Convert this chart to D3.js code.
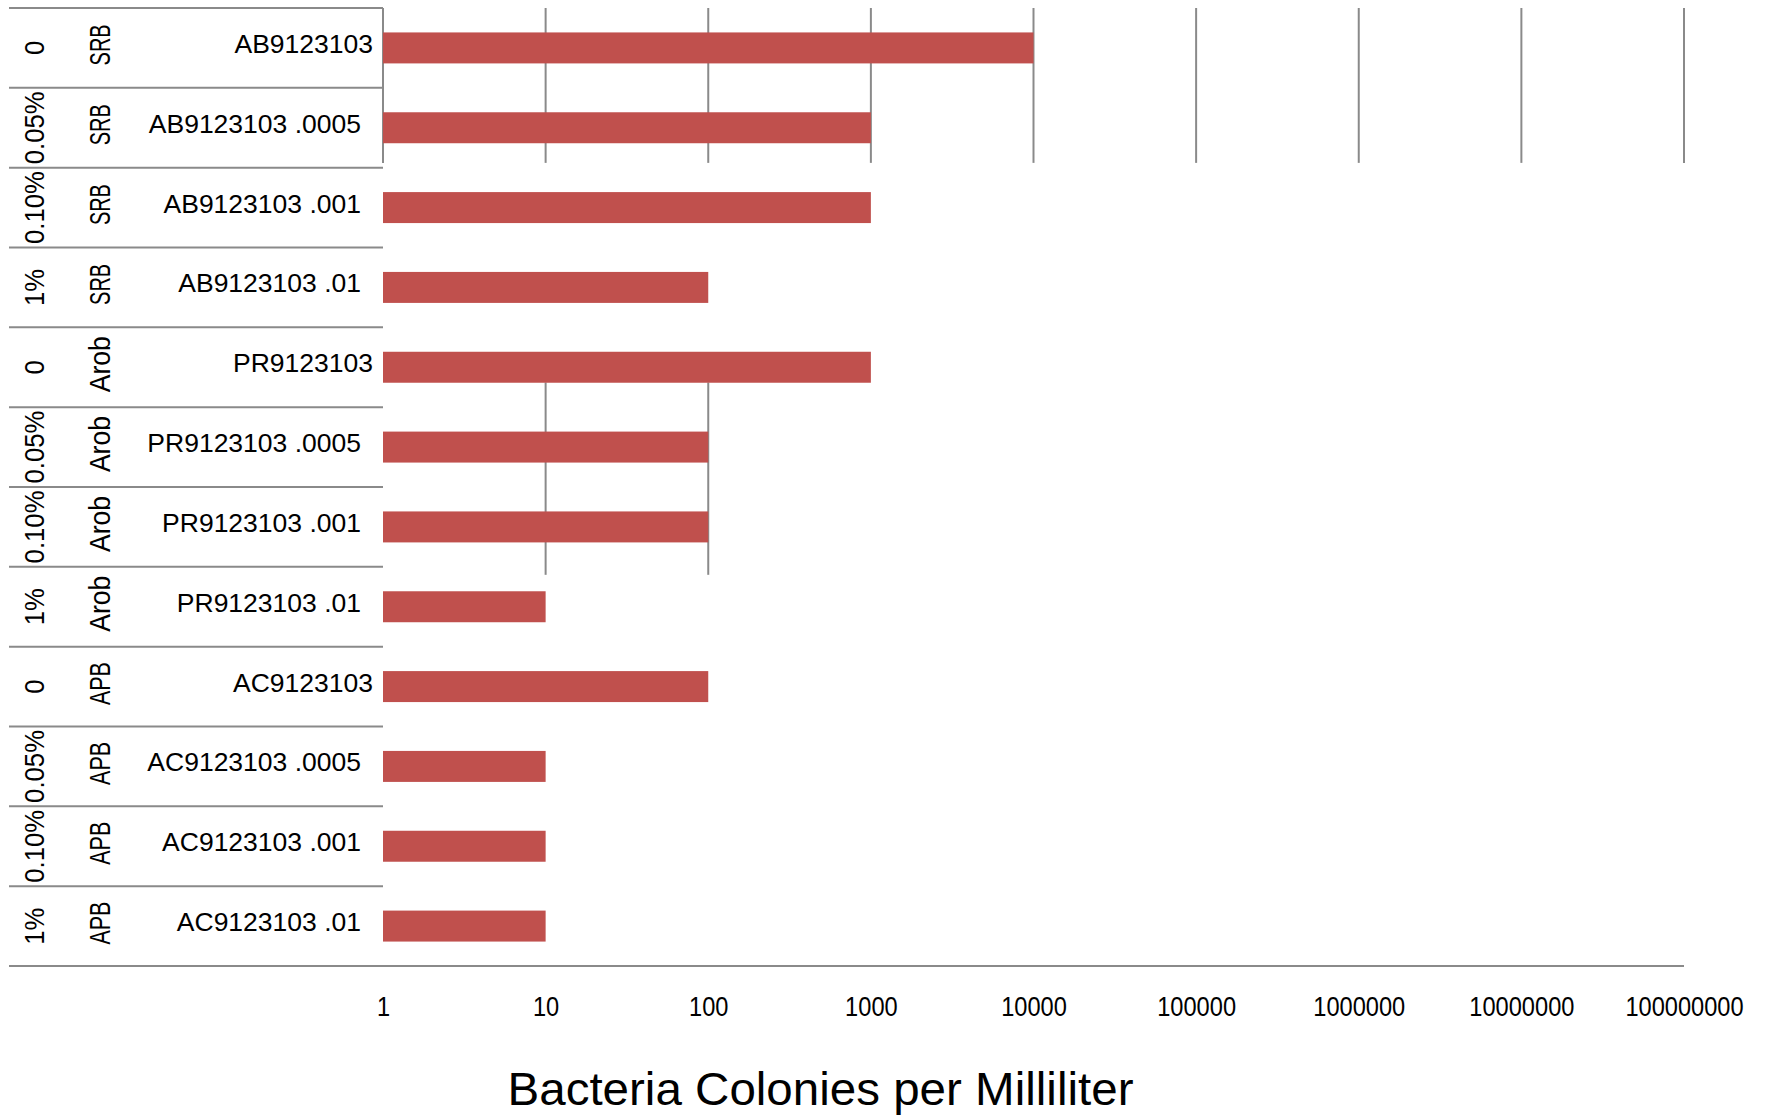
<!DOCTYPE html>
<html>
<head>
<meta charset="utf-8">
<script src="https://cdn.jsdelivr.net/npm/d3@7"></script>
<style>
  html, body { margin: 0; padding: 0; background: #ffffff; }
  svg { display: block; font-family: "Liberation Sans", Arial, sans-serif; }
</style>
</head>
<body>
<svg id="chart" width="1765" height="1115"></svg>
<script>
// ---------- data ----------
const concentrations = ["0", "0.05%", "0.10%", "1%", "0", "0.05%", "0.10%", "1%", "0", "0.05%", "0.10%", "1%"];
const bacteriaTypes = ["SRB", "SRB", "SRB", "SRB", "Arob", "Arob", "Arob", "Arob", "APB", "APB", "APB", "APB"];
const samples = ["AB9123103", "AB9123103 .0005", "AB9123103 .001", "AB9123103 .01",
                 "PR9123103", "PR9123103 .0005", "PR9123103 .001", "PR9123103 .01",
                 "AC9123103", "AC9123103 .0005", "AC9123103 .001", "AC9123103 .01"];
const colonies = [10000, 1000, 1000, 100, 1000, 100, 100, 10, 100, 10, 10, 10];
const tickValues = [1, 10, 100, 1000, 10000, 100000, 1000000, 10000000, 100000000];
const tickLabels = ["1", "10", "100", "1000", "10000", "100000", "1000000", "10000000", "100000000"];
const axisTitle = "Bacteria Colonies per Milliliter";

// ---------- layout / style ----------
const W = 1765, H = 1115;
const tableLeft = 9, plotLeft = 383, plotRight = 1684, plotTop = 8, plotBottom = 966;
const barColor = "#C0504D";
const lineColor = "#8a8a8a";
const typeTextLength = { SRB: 41, Arob: 56, APB: 43 };

const svg = d3.select("#chart");

const idx = d3.range(samples.length);
const y = d3.scaleBand().domain(idx).range([plotTop, plotBottom])
  .paddingInner(0.612).paddingOuter(0.306);
const rowEdge = d3.scaleLinear().domain([0, samples.length]).range([plotTop, plotBottom]);
const x = d3.scaleLog().domain([1, 1e8]).range([plotLeft, plotRight]);

// gridline bands (visible parts of the vertical gridlines)
const gridBands = [
  { from: 0, to: 1.94, min: 1, max: 1e8 },
  { from: 4.69, to: 7.1, min: 10, max: 100 }
];
gridBands.forEach(b => {
  svg.append("g").selectAll("line")
    .data(tickValues.filter(v => v >= b.min && v <= b.max))
    .join("line")
    .attr("x1", d => x(d)).attr("x2", d => x(d))
    .attr("y1", rowEdge(b.from)).attr("y2", rowEdge(b.to))
    .attr("stroke", lineColor).attr("stroke-width", 2);
});

// row separators in the label table
svg.append("g").selectAll("line")
  .data(d3.range(samples.length))
  .join("line")
  .attr("x1", tableLeft).attr("x2", plotLeft)
  .attr("y1", d => rowEdge(d)).attr("y2", d => rowEdge(d))
  .attr("stroke", lineColor).attr("stroke-width", 2);

// bottom axis line
svg.append("line")
  .attr("x1", tableLeft).attr("x2", plotRight)
  .attr("y1", plotBottom).attr("y2", plotBottom)
  .attr("stroke", lineColor).attr("stroke-width", 2);

// bars
svg.append("g").selectAll("rect")
  .data(idx)
  .join("rect")
  .attr("x", x(1))
  .attr("y", i => y(i))
  .attr("width", i => x(colonies[i]) - x(1))
  .attr("height", y.bandwidth())
  .attr("fill", barColor);

const rowCenter = i => y(i) + y.bandwidth() / 2;

// sample labels
svg.append("g").selectAll("text")
  .data(idx)
  .join("text")
  .attr("x", i => samples[i].includes(" ") ? 361 : 373)
  .attr("y", i => rowCenter(i) + 5)
  .attr("text-anchor", "end")
  .attr("font-size", 26.5)
  .attr("fill", "#000")
  .text(i => samples[i]);

// concentration labels (rotated)
svg.append("g").selectAll("text")
  .data(idx)
  .join("text")
  .attr("transform", i => `translate(44,${rowCenter(i)}) rotate(-90) scale(0.92,1)`)
  .attr("text-anchor", "middle")
  .attr("font-size", 28)
  .attr("fill", "#000")
  .text(i => concentrations[i]);

// bacteria type labels (rotated)
svg.append("g").selectAll("text")
  .data(idx)
  .join("text")
  .attr("transform", i => `translate(110,${rowCenter(i) - 3}) rotate(-90)`)
  .attr("text-anchor", "middle")
  .attr("font-size", 30)
  .attr("textLength", i => typeTextLength[bacteriaTypes[i]])
  .attr("lengthAdjust", "spacingAndGlyphs")
  .attr("fill", "#000")
  .text(i => bacteriaTypes[i]);

// x axis tick labels
const axis = d3.axisBottom(x)
  .tickValues(tickValues)
  .tickFormat((d, i) => tickLabels[i])
  .tickSize(0);
const gAxis = svg.append("g").attr("transform", `translate(0,${plotBottom})`).call(axis);
gAxis.select(".domain").remove();
gAxis.selectAll("text")
  .attr("y", 50)
  .attr("dy", null)
  .attr("transform", "scale(0.875,1)")
  .attr("font-size", 27)
  .attr("font-family", "'Liberation Sans', Arial, sans-serif")
  .attr("fill", "#000");

// axis title
svg.append("text")
  .attr("x", 820.5)
  .attr("y", 1105)
  .attr("text-anchor", "middle")
  .attr("font-size", 47)
  .attr("textLength", 626)
  .attr("lengthAdjust", "spacingAndGlyphs")
  .attr("fill", "#000")
  .text(axisTitle);
</script>
</body>
</html>
